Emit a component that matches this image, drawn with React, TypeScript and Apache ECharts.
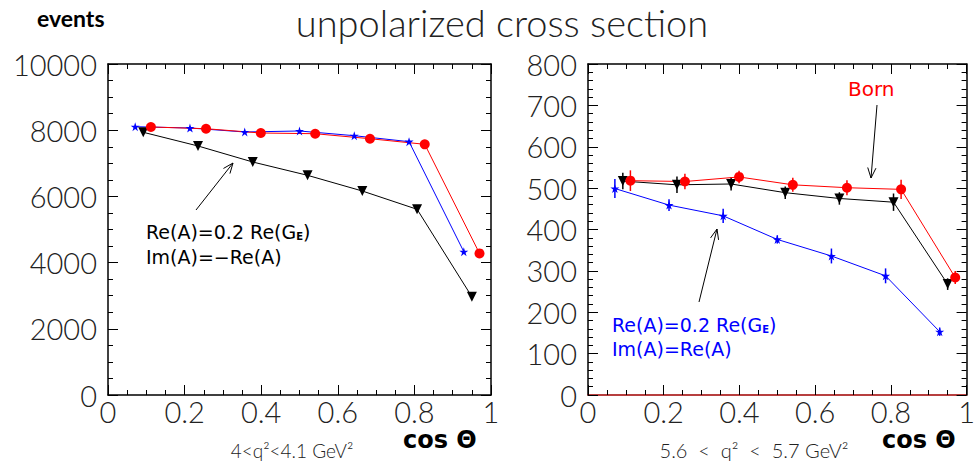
import React, { useEffect, useRef } from "react";
import * as echarts from "echarts";

// cos(theta) positions of the three samples (bin centres, slightly shifted)
const cosBlue = [0.071, 0.214, 0.357, 0.5, 0.643, 0.786, 0.929];
const cosBlack = [0.092, 0.235, 0.378, 0.521, 0.664, 0.807, 0.95];
const cosRed = [0.112, 0.256, 0.399, 0.541, 0.684, 0.827, 0.97];

// Left panel: 4 < q^2 < 4.1 GeV^2
const leftBlue = [8106, 8066, 7946, 7976, 7834, 7653, 4329];
const leftRed = [8097, 8045, 7915, 7894, 7743, 7574, 4278];
const leftBlack = [7937, 7523, 7039, 6637, 6163, 5610, 2970];

// Right panel: 5.6 < q^2 < 5.7 GeV^2
const rightBlue = [499, 459, 433, 376, 336, 288, 153];
const rightBlueErr = [23, 14, 17, 10, 18, 18, 10];
const rightRed = [518, 516, 527, 508, 501, 497, 284];
const rightRedErr = [25, 19, 15, 17, 18, 23, 16];
const rightBlack = [517, 508, 510, 489, 475, 466, 268];
const rightBlackErr = [20, 20, 16, 15, 15, 21, 14];

const xTicks = [0, 0.2, 0.4, 0.6, 0.8, 1];

const STAR =
  "path://M0,-1 L0.2245,-0.309 L0.951,-0.309 L0.363,0.118 L0.588,0.809 L0,0.382 L-0.588,0.809 L-0.363,0.118 L-0.951,-0.309 L-0.2245,-0.309 Z";

const THIN = "Lato, 'DejaVu Sans', sans-serif";
const SANS = "'DejaVu Sans', sans-serif";

function pairs(xs: number[], ys: number[]) {
  return xs.map((x, i) => [x, ys[i]]);
}
function triples(xs: number[], ys: number[], es: number[]) {
  return xs.map((x, i) => [x, ys[i], es[i]]);
}

function arrow(x1: number, y1: number, x2: number, y2: number, color = "#000") {
  const ang = Math.atan2(y2 - y1, x2 - x1);
  const L = 11;
  const a = (22 * Math.PI) / 180;
  const p1 = [x2 - L * Math.cos(ang - a), y2 - L * Math.sin(ang - a)];
  const p2 = [x2 - L * Math.cos(ang + a), y2 - L * Math.sin(ang + a)];
  return [
    { type: "line", shape: { x1, y1, x2, y2 }, style: { stroke: color, lineWidth: 1 } },
    {
      type: "polyline",
      shape: { points: [p1, [x2, y2], p2] },
      style: { stroke: color, lineWidth: 1, fill: null },
    },
  ];
}

export default function App() {
  const ref = useRef<HTMLDivElement>(null);
  useEffect(() => {
    if (!ref.current) return;
    const chart = echarts.init(ref.current, undefined, { renderer: "svg" });

    const tickLabel = {
      fontFamily: THIN,
      fontWeight: 300 as any,
      fontSize: 29,
      color: "#222",
    };

    const xAxisBase = (gridIndex: number, bottomColor: string) => [
      {
        type: "value",
        gridIndex,
        position: "bottom",
        min: 0,
        max: 1,
        interval: 0.2,
        axisLine: { show: true, onZero: false, lineStyle: { color: bottomColor, width: 1.5 } },
        axisTick: { show: true, inside: true, length: 10, lineStyle: { color: "#000" } },
        minorTick: { show: true, splitNumber: 4, length: 5, lineStyle: { color: "#000" } },
        splitLine: { show: false },
        axisLabel: {
          ...tickLabel,
          margin: 2,
          formatter: (v: number) => {
            const r = Math.round(v * 10) / 10;
            return xTicks.includes(r) ? String(r) : "";
          },
        },
      },
      {
        type: "value",
        gridIndex,
        position: "top",
        min: 0,
        max: 1,
        interval: 0.2,
        axisLine: { show: true, onZero: false, lineStyle: { color: "#000", width: 1.5 } },
        axisTick: { show: true, inside: true, length: 10, lineStyle: { color: "#000" } },
        minorTick: { show: true, splitNumber: 4, length: 5, lineStyle: { color: "#000" } },
        splitLine: { show: false },
        axisLabel: { show: false },
      },
    ];

    const yAxisBase = (gridIndex: number, max: number, interval: number, split: number) => [
      {
        type: "value",
        gridIndex,
        position: "left",
        min: 0,
        max,
        interval,
        axisLine: { show: true, onZero: false, lineStyle: { color: "#000", width: 1.5 } },
        axisTick: { show: true, inside: true, length: 10, lineStyle: { color: "#000" } },
        minorTick: { show: true, splitNumber: split, length: 5, lineStyle: { color: "#000" } },
        splitLine: { show: false },
        axisLabel: { ...tickLabel, margin: 11, formatter: (v: number) => String(v) },
      },
      {
        type: "value",
        gridIndex,
        position: "right",
        min: 0,
        max,
        interval,
        axisLine: { show: true, onZero: false, lineStyle: { color: "#000", width: 1.5 } },
        axisTick: { show: true, inside: true, length: 10, lineStyle: { color: "#000" } },
        minorTick: { show: true, splitNumber: split, length: 5, lineStyle: { color: "#000" } },
        splitLine: { show: false },
        axisLabel: { show: false },
      },
    ];

    const lineSeries = (
      name: string,
      xAxisIndex: number,
      yAxisIndex: number,
      data: number[][],
      color: string,
      symbol: string,
      size: number,
      rotate = 0
    ) => ({
      name,
      type: "line",
      xAxisIndex,
      yAxisIndex,
      data,
      symbol,
      symbolSize: size,
      symbolRotate: rotate,
      showAllSymbol: true,
      lineStyle: { color, width: 1 },
      itemStyle: { color, borderWidth: 0 },
      z: 3,
    });

    const errSeries = (xAxisIndex: number, yAxisIndex: number, data: number[][], color: string) => ({
      type: "custom",
      xAxisIndex,
      yAxisIndex,
      data,
      z: 2,
      renderItem: (params: any, api: any) => {
        const x = api.value(0);
        const y = api.value(1);
        const e = api.value(2);
        const p1 = api.coord([x, y - e]);
        const p2 = api.coord([x, y + e]);
        return {
          type: "line",
          shape: { x1: p1[0], y1: p1[1], x2: p2[0], y2: p2[1] },
          style: { stroke: color, lineWidth: 1.5 },
        };
      },
    });

    const subE = (main: string, color: string) => ({
      text: `{a|${main}}{s|E}{a|)}`,
      fill: color,
      rich: {
        a: { fontFamily: SANS, fontSize: 19, fill: color, lineHeight: 22, verticalAlign: "bottom" },
        s: { fontFamily: SANS, fontSize: 10, fontWeight: "bold", fill: color, lineHeight: 16, verticalAlign: "bottom" },
      },
    });

    const option: any = {
      animation: false,
      grid: [
        { left: 108, top: 64, width: 383, height: 331 },
        { left: 588, top: 64, width: 380, height: 331 },
      ],
      xAxis: [...xAxisBase(0, "#000"), ...xAxisBase(1, "#a00000")],
      yAxis: [...yAxisBase(0, 10000, 2000, 4), ...yAxisBase(1, 800, 100, 5)],
      series: [
        lineSeries("blueL", 0, 0, pairs(cosBlue, leftBlue), "#0000ff", STAR, 9),
        lineSeries("blackL", 0, 0, pairs(cosBlack, leftBlack), "#000000", "triangle", 10, 180),
        lineSeries("redL", 0, 0, pairs(cosRed, leftRed), "#ff0000", "circle", 10),
        errSeries(2, 2, triples(cosBlue, rightBlue, rightBlueErr), "#0000ff"),
        errSeries(2, 2, triples(cosBlack, rightBlack, rightBlackErr), "#000000"),
        errSeries(2, 2, triples(cosRed, rightRed, rightRedErr), "#ff0000"),
        lineSeries("blueR", 2, 2, pairs(cosBlue, rightBlue), "#0000ff", STAR, 9),
        lineSeries("blackR", 2, 2, pairs(cosBlack, rightBlack), "#000000", "triangle", 10, 180),
        lineSeries("redR", 2, 2, pairs(cosRed, rightRed), "#ff0000", "circle", 10),
      ],
      graphic: [
        {
          type: "text",
          left: 37,
          top: 6,
          style: { text: "events", fontFamily: THIN, fontSize: 23, fontWeight: "bold", fill: "#000" },
        },
        {
          type: "text",
          x: 502,
          y: 22,
          style: {
            text: "unpolarized cross section",
            fontFamily: THIN,
            fontWeight: 300,
            fontSize: 38,
            fill: "#222",
            align: "center",
            verticalAlign: "middle",
          },
        },
        {
          type: "text",
          x: 403,
          y: 440,
          style: { text: "cos Θ", fontFamily: SANS, fontSize: 24, fontWeight: "bold", fill: "#000", verticalAlign: "middle" },
        },
        {
          type: "text",
          x: 882,
          y: 440,
          style: { text: "cos Θ", fontFamily: SANS, fontSize: 24, fontWeight: "bold", fill: "#000", verticalAlign: "middle" },
        },
        {
          type: "text",
          x: 292,
          y: 450,
          style: {
            text: "4<q²<4.1 GeV²",
            fontFamily: THIN,
            fontWeight: 300,
            fontSize: 19,
            fill: "#222",
            align: "center",
            verticalAlign: "middle",
          },
        },
        {
          type: "text",
          x: 754,
          y: 450,
          style: {
            text: "5.6  <  q²  <  5.7 GeV²",
            fontFamily: THIN,
            fontWeight: 300,
            fontSize: 20,
            fill: "#222",
            align: "center",
            verticalAlign: "middle",
          },
        },
        // left annotation
        { type: "text", x: 146, y: 219, style: subE("Re(A)=0.2 Re(G", "#000") },
        {
          type: "text",
          x: 146,
          y: 247,
          style: { text: "Im(A)=−Re(A)", fontFamily: SANS, fontSize: 19, fill: "#000" },
        },
        ...arrow(196, 210, 233, 163),
        // right annotations
        {
          type: "text",
          x: 848,
          y: 79,
          style: { text: "Born", fontFamily: SANS, fontSize: 20, fill: "#ff0000" },
        },
        ...arrow(877, 105, 871, 178),
        { type: "text", x: 612, y: 312, style: subE("Re(A)=0.2 Re(G", "#0000ff") },
        {
          type: "text",
          x: 612,
          y: 339,
          style: { text: "Im(A)=Re(A)", fontFamily: SANS, fontSize: 19, fill: "#0000ff" },
        },
        ...arrow(699, 302, 717, 229),
      ],
    };
    chart.setOption(option);
    return () => chart.dispose();
  }, []);
  return (
    <div
      ref={ref}
      style={{ position: "absolute", left: 0, top: 0, width: 978, height: 467, background: "#fff" }}
    />
  );
}
